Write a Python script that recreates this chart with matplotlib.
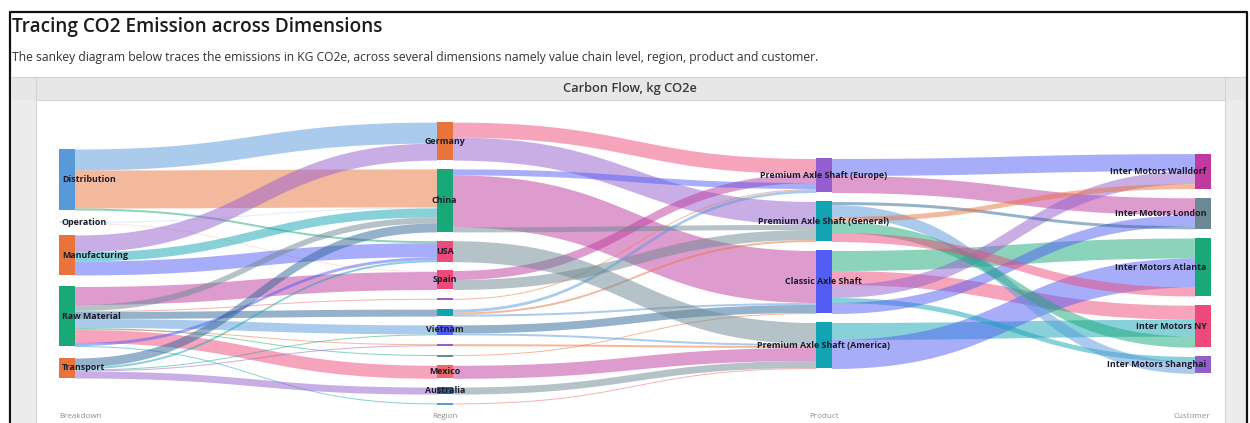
import numpy as np
import matplotlib.pyplot as plt
from matplotlib.patches import Rectangle

plt.rcParams['font.family'] = ['Open Sans', 'DejaVu Sans']

# node names per dimension, top to bottom
breakdown = ["Distribution", "Operation", "Manufacturing", "Raw Material", "Transport"]
region = ["Germany", "China", "USA", "Spain", "France", "Italy", "Vietnam",
          "Poland", "Canada", "Mexico", "Australia", "Japan"]
product = ["Premium Axle Shaft (Europe)", "Premium Axle Shaft (General)",
           "Classic Axle Shaft", "Premium Axle Shaft (America)"]
customer = ["Inter Motors Walldorf", "Inter Motors London", "Inter Motors Atlanta",
            "Inter Motors NY", "Inter Motors Shanghai"]
dimensions = ["Breakdown", "Region", "Product", "Customer"]
unlabelled = {"France", "Italy", "Poland", "Canada", "Japan"}

# flows in kg CO2e (x100), in stacking order at both ends
breakdown_to_region = [
    ("Distribution", "Germany", 21), ("Distribution", "China", 38), ("Distribution", "USA", 2),
    ("Operation", "China", 1), ("Operation", "Spain", 1),
    ("Manufacturing", "Germany", 17), ("Manufacturing", "China", 9), ("Manufacturing", "USA", 14),
    ("Raw Material", "Spain", 18), ("Raw Material", "China", 6), ("Raw Material", "France", 1),
    ("Raw Material", "Italy", 7), ("Raw Material", "Vietnam", 9), ("Raw Material", "Canada", 1),
    ("Raw Material", "Poland", 1), ("Raw Material", "Mexico", 13), ("Raw Material", "USA", 3),
    ("Raw Material", "Japan", 1),
    ("Transport", "China", 9), ("Transport", "USA", 2), ("Transport", "Vietnam", 1),
    ("Transport", "Poland", 1), ("Transport", "Australia", 7),
]
region_to_product = [
    ("Germany", "Premium Axle Shaft (Europe)", 15), ("Germany", "Premium Axle Shaft (General)", 23),
    ("Spain", "Premium Axle Shaft (Europe)", 9), ("China", "Premium Axle Shaft (Europe)", 6),
    ("China", "Classic Axle Shaft", 52), ("China", "Premium Axle Shaft (General)", 5),
    ("Spain", "Premium Axle Shaft (General)", 10), ("France", "Premium Axle Shaft (Europe)", 1),
    ("Italy", "Premium Axle Shaft (Europe)", 3), ("Italy", "Premium Axle Shaft (General)", 2),
    ("Italy", "Classic Axle Shaft", 2), ("Vietnam", "Classic Axle Shaft", 8),
    ("Canada", "Classic Axle Shaft", 1), ("USA", "Premium Axle Shaft (America)", 21),
    ("Vietnam", "Premium Axle Shaft (America)", 2), ("Poland", "Premium Axle Shaft (America)", 2),
    ("Mexico", "Premium Axle Shaft (America)", 13), ("Australia", "Premium Axle Shaft (America)", 7),
    ("Japan", "Premium Axle Shaft (America)", 1),
]
product_to_customer = [
    ("Premium Axle Shaft (Europe)", "Inter Motors Walldorf", 17),
    ("Premium Axle Shaft (Europe)", "Inter Motors London", 17),
    ("Classic Axle Shaft", "Inter Motors Atlanta", 20),
    ("Classic Axle Shaft", "Inter Motors NY", 14),
    ("Premium Axle Shaft (America)", "Inter Motors NY", 17),
    ("Premium Axle Shaft (America)", "Inter Motors Atlanta", 29),
    ("Classic Axle Shaft", "Inter Motors Walldorf", 13),
    ("Classic Axle Shaft", "Inter Motors Shanghai", 5),
    ("Classic Axle Shaft", "Inter Motors London", 11),
    ("Premium Axle Shaft (General)", "Inter Motors London", 3),
    ("Premium Axle Shaft (General)", "Inter Motors Shanghai", 12),
    ("Premium Axle Shaft (General)", "Inter Motors Walldorf", 5),
    ("Premium Axle Shaft (General)", "Inter Motors NY", 11),
    ("Premium Axle Shaft (General)", "Inter Motors Atlanta", 9),
]

# SAP-style palette
BLUE, ORANGE, GREEN, PINK = "#5899DA", "#E8743B", "#19A979", "#ED4A7B"
PURPLE, TEAL, INDIGO, MAGENTA = "#945ECF", "#13A4B4", "#525DF4", "#BF399E"
GREY, RED, NAVY = "#6C8893", "#EE6868", "#2F6497"

node_colours = {
    "Distribution": BLUE, "Operation": "#d6e4f3", "Manufacturing": ORANGE,
    "Raw Material": GREEN, "Transport": ORANGE,
    "Germany": ORANGE, "China": GREEN, "USA": PINK, "Spain": PINK, "France": PURPLE,
    "Italy": TEAL, "Vietnam": INDIGO, "Poland": PURPLE, "Canada": GREY, "Mexico": RED,
    "Australia": NAVY, "Japan": BLUE,
    "Premium Axle Shaft (Europe)": PURPLE, "Premium Axle Shaft (General)": TEAL,
    "Classic Axle Shaft": INDIGO, "Premium Axle Shaft (America)": TEAL,
    "Inter Motors Walldorf": MAGENTA, "Inter Motors London": GREY,
    "Inter Motors Atlanta": GREEN, "Inter Motors NY": PINK, "Inter Motors Shanghai": PURPLE,
}
flow_colours = [
    [BLUE, ORANGE, GREEN, BLUE, ORANGE, PURPLE, TEAL, INDIGO,
     MAGENTA, GREY, RED, NAVY, BLUE, GREEN, ORANGE, PINK, INDIGO, TEAL,
     NAVY, TEAL, GREEN, PURPLE, PURPLE],
    [PINK, PURPLE, MAGENTA, INDIGO, MAGENTA, GREY, GREY, ORANGE, BLUE, ORANGE,
     BLUE, NAVY, ORANGE, GREY, BLUE, ORANGE, MAGENTA, GREY, RED],
    [INDIGO, MAGENTA, GREEN, PINK, TEAL, INDIGO, PURPLE, TEAL, INDIGO,
     NAVY, BLUE, ORANGE, GREEN, PINK],
]

columns = [breakdown, region, product, customer]
stages = [breakdown_to_region, region_to_product, product_to_customer]

# layout in pixel units
col_x = [59, 437, 816, 1195]
col_pad = [11.5, 8.8, 9.0, 9.2]
node_w = 15.5
mid_y = 263.5
min_h = 2.0

node_val = {}
for links in stages:
    for s, t, v in links:
        node_val.setdefault(s, [0, 0])[1] += v
        node_val.setdefault(t, [0, 0])[0] += v

node_pos = {}
for ci, names in enumerate(columns):
    heights = [max(max(node_val[n]), min_h) for n in names]
    pad = col_pad[ci]
    y = mid_y - (sum(heights) + pad * (len(names) - 1)) / 2
    for n, h in zip(names, heights):
        node_pos[n] = (col_x[ci], y, h)
        y += h + pad

fig = plt.figure(figsize=(12.5, 4.23), dpi=100)
ax = fig.add_axes([0, 0, 1, 1])
ax.set_xlim(0, 1250)
ax.set_ylim(423, 0)
ax.axis('off')

# page frame and panel chrome
ax.add_patch(Rectangle((12, 77), 1234, 23, facecolor='#e7e7e7', edgecolor='none'))
ax.add_patch(Rectangle((12, 100), 24, 330, facecolor='#ececec', edgecolor='none'))
ax.add_patch(Rectangle((1225, 100), 21, 330, facecolor='#ececec', edgecolor='none'))
ax.plot([12, 1246], [77, 77], color='#d4d4d4', lw=0.8)
ax.plot([36, 1225], [100, 100], color='#d4d4d4', lw=0.8)
ax.plot([36, 36], [77, 423], color='#d4d4d4', lw=0.8)
ax.plot([1225, 1225], [77, 423], color='#d4d4d4', lw=0.8)
ax.plot([10, 10, 1247, 1247], [423, 12, 12, 423], color='#111111', lw=1.6)

ax.text(12, 27, "Tracing CO2 Emission across Dimensions", fontsize=13.7,
        fontweight='semibold', color='#1c1c1c', va='center', ha='left')
ax.text(12, 57, "The sankey diagram below traces the emissions in KG CO2e, across several "
        "dimensions namely value chain level, region, product and customer.",
        fontsize=8.7, color='#333333', va='center', ha='left')
ax.text(630, 88.5, "Carbon Flow, kg CO2e", fontsize=9.3, fontweight='semibold',
        color='#3a3a3a', va='center', ha='center')

# flows as cubic bezier bands
t = np.linspace(0, 1, 80)
for si, links in enumerate(stages):
    out_off = {}
    in_off = {}
    for (s, tg, v), colour in zip(links, flow_colours[si]):
        sx, sy, _ = node_pos[s]
        tx, ty, _ = node_pos[tg]
        y0 = sy + out_off.get(s, 0)
        y1 = ty + in_off.get(tg, 0)
        out_off[s] = out_off.get(s, 0) + v
        in_off[tg] = in_off.get(tg, 0) + v
        x0, x1 = sx + node_w, tx
        xm = (x0 + x1) / 2
        xs = (1 - t) ** 3 * x0 + 3 * (1 - t) ** 2 * t * xm + 3 * (1 - t) * t ** 2 * xm + t ** 3 * x1
        ease = 3 * t ** 2 - 2 * t ** 3
        top = y0 + (y1 - y0) * ease
        alpha = 0.18 if s == "Operation" else 0.5
        ax.fill_between(xs, top, top + v, color=colour, alpha=alpha, lw=0)

# nodes and labels
for ci, names in enumerate(columns):
    for n in names:
        x, y, h = node_pos[n]
        ax.add_patch(Rectangle((x, y), node_w, h, facecolor=node_colours[n], edgecolor='none'))
        if n in unlabelled:
            continue
        cy = y + h / 2
        if ci == 0:
            lx, ha = x + 3, 'left'
        elif ci == 3:
            lx, ha = x + node_w - 4, 'right'
        else:
            lx, ha = x + node_w / 2, 'center'
        ax.text(lx, cy, n, fontsize=6.4, fontweight='bold', color='#1b1b2b',
                ha=ha, va='center')

for ci, d in enumerate(dimensions):
    x = col_x[ci]
    if ci == 0:
        ax.text(x, 417, d, fontsize=5.8, color='#8c8c8c', ha='left', va='center')
    elif ci == 3:
        ax.text(x + node_w, 417, d, fontsize=5.8, color='#8c8c8c', ha='right', va='center')
    else:
        ax.text(x + node_w / 2, 417, d, fontsize=5.8, color='#8c8c8c', ha='center', va='center')

fig.savefig("out.png", dpi=100)
